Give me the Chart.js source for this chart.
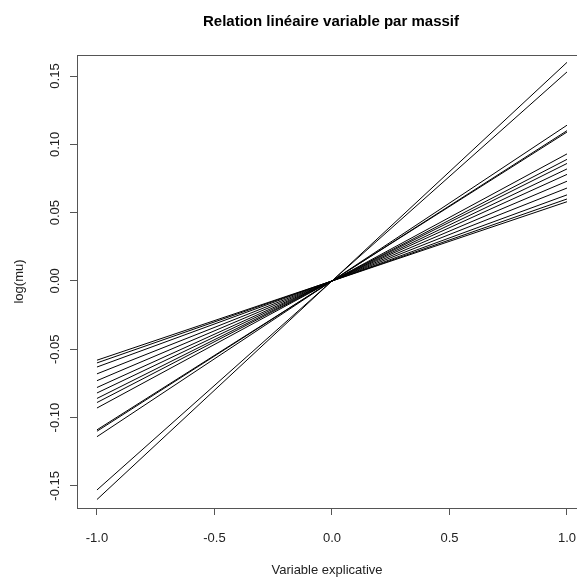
<!DOCTYPE html>
<html>
<head>
<meta charset="utf-8">
<title>Relation linéaire variable par massif</title>
<script src="https://cdn.jsdelivr.net/npm/chart.js@4/dist/chart.umd.min.js"></script>
<style>
  html, body { margin: 0; padding: 0; background: #fff; }
  #wrap { width: 577px; height: 578px; }
</style>
</head>
<body>
<div id="wrap"><canvas id="graficaMassifs" width="577" height="578"></canvas></div>
<script>
// extrémités de chaque droite (une par massif), lues en x = -1 et x = 1
const xEnds = [-1, 1];
const yLeft = [-0.058, -0.060, -0.063, -0.068, -0.073, -0.078, -0.082, -0.086,
               -0.089, -0.093, -0.109, -0.110, -0.114, -0.153, -0.160];
const yRight = [0.058, 0.060, 0.063, 0.068, 0.073, 0.078, 0.082, 0.086,
                0.089, 0.093, 0.109, 0.110, 0.114, 0.153, 0.160];

const xTicks = [-1.0, -0.5, 0.0, 0.5, 1.0];
const yTicks = [-0.15, -0.10, -0.05, 0.00, 0.05, 0.10, 0.15];

const titre = "Relation linéaire variable par massif";
const titreX = "Variable explicative";
const titreY = "log(mu)";

const fontFamily = "'Liberation Sans', Arial, sans-serif";

const datasets = yLeft.map((yl, i) => ({
  data: [{ x: xEnds[0], y: yl }, { x: xEnds[1], y: yRight[i] }],
  showLine: true,
  borderColor: "#000",
  borderWidth: 1,
  pointRadius: 0,
  fill: false,
}));

// titre principal + cadre du haut (style plot R)
const cadre = {
  id: "cadre",
  afterDraw(chart) {
    const { ctx, chartArea } = chart;
    ctx.save();
    ctx.strokeStyle = "#555";
    ctx.lineWidth = 1;
    ctx.beginPath();
    ctx.moveTo(chartArea.left, chartArea.top + 0.5);
    ctx.lineTo(chartArea.right, chartArea.top + 0.5);
    ctx.stroke();
    ctx.fillStyle = "#000";
    ctx.font = "bold 15px " + fontFamily;
    ctx.textAlign = "center";
    ctx.textBaseline = "middle";
    ctx.fillText(titre, 331, 22);
    ctx.restore();
  },
};

new Chart(document.getElementById("graficaMassifs"), {
  type: "scatter",
  data: { datasets },
  plugins: [cadre],
  options: {
    responsive: false,
    animation: false,
    layout: { padding: { top: 55, left: 0, right: 0, bottom: 0 } },
    plugins: { legend: { display: false }, tooltip: { enabled: false } },
    scales: {
      x: {
        type: "linear",
        min: -1.085,
        max: 1.0426,
        afterBuildTicks: s => { s.ticks = xTicks.map(v => ({ value: v })); },
        afterFit: s => {
          s.height = 70;
          // le cadre continue hors du canvas : pas de marge pour le dernier libellé
          s.paddingLeft = 0;
          s.paddingRight = 0;
        },
        ticks: {
          color: "#222",
          font: { family: fontFamily, size: 13 },
          padding: 16,
          callback: v => v.toFixed(1),
        },
        grid: { drawOnChartArea: false, drawTicks: true, tickLength: 7, color: "#555" },
        border: { display: true, color: "#555" },
        title: {
          display: true,
          text: titreX,
          color: "#222",
          font: { family: fontFamily, size: 13 },
          padding: { top: 0, bottom: 0 },
        },
      },
      y: {
        type: "linear",
        min: -0.1662,
        max: 0.1654,
        afterBuildTicks: s => { s.ticks = yTicks.map(v => ({ value: v })); },
        afterFit: s => { s.width = 77; },
        ticks: {
          color: "#222",
          font: { family: fontFamily, size: 13 },
          padding: 0,
          minRotation: 90,
          maxRotation: 90,
          crossAlign: "center",
          callback: v => v.toFixed(2),
        },
        grid: { drawOnChartArea: false, drawTicks: true, tickLength: 7, color: "#555" },
        border: { display: true, color: "#555" },
        title: {
          display: true,
          text: titreY,
          color: "#222",
          font: { family: fontFamily, size: 13 },
          padding: { top: 12, bottom: 0 },
        },
      },
    },
  },
});
</script>
</body>
</html>
